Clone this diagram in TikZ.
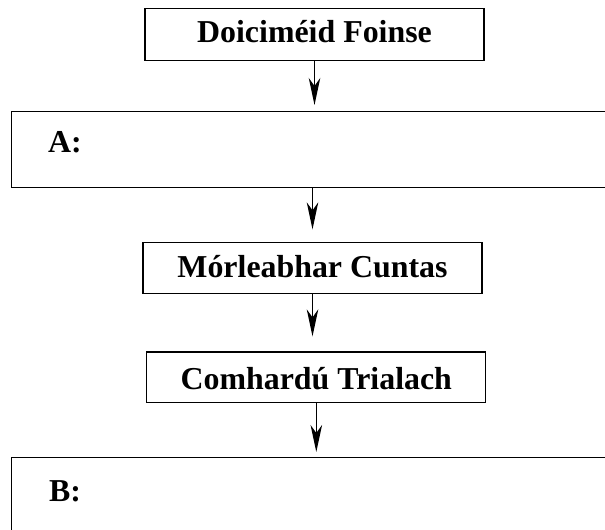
\documentclass[tikz,border=0pt]{standalone}
\usepackage{fontspec}
\setmainfont{Liberation Serif}
\usetikzlibrary{arrows.meta}
\begin{document}
\begin{tikzpicture}[x=1bp,y=-1bp,
  font=\fontsize{32}{36}\selectfont\bfseries,
  stepbox/.style={draw=black, line width=1.3bp, rectangle, inner sep=0pt,
    minimum width=339bp, minimum height=51bp, text depth=0pt},
  widebox/.style={draw=black, line width=1.3bp, rectangle, inner sep=0pt,
    anchor=north west, minimum width=700bp},
  lbl/.style={anchor=base west, inner sep=0pt},
  arr/.style={line width=1.3bp, -{Stealth[length=27bp,width=11.5bp,inset=8bp]}}
]
\clip (0,0) rectangle (605,530);
\fill[white] (0,0) rectangle (605,530);

\node[stepbox, minimum height=52.4bp, text height=16.4bp] (src) at (314.5,34.5) {Doiciméid Foinse};
\node[widebox, minimum height=75.5bp] (boxA) at (11,111) {};
\node[lbl] (labA) at (48,153) {A:};
\node[stepbox, text height=18.6bp] (mor) at (312.5,268) {Mórleabhar Cuntas};
\node[stepbox, minimum height=50.7bp, text height=23.8bp] (com) at (316.3,377.4) {Comhardú Trialach};
\node[widebox, minimum height=120bp] (boxB) at (11,457) {};
\node[lbl] (labB) at (49,501.7) {B:};

\draw[arr, shorten >=6bp] (src.south) -- (src.south |- boxA.north);
\draw[arr, shorten >=12.5bp] (mor.north |- boxA.south) -- (mor.north);
\draw[arr, shorten >=15bp] (mor.south) -- (mor.south |- com.north);
\draw[arr, shorten >=5bp] (com.south) -- (com.south |- boxB.north);
\end{tikzpicture}
\end{document}
